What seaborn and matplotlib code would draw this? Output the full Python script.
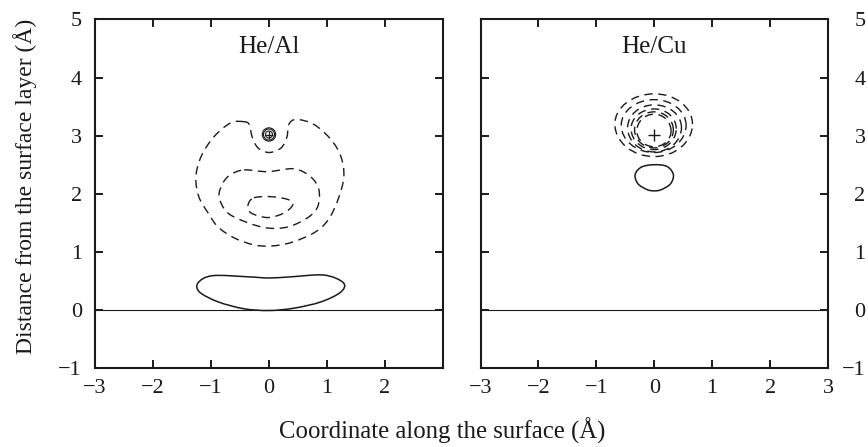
import numpy as np
import matplotlib
matplotlib.use("Agg")
import matplotlib.pyplot as plt
from matplotlib.path import Path
from matplotlib.patches import PathPatch
import seaborn as sns
import pandas as pd

# ---------------- data ----------------
panel_titles = ["He/Al", "He/Cu"]
x_ticks = [-3, -2, -1, 0, 1, 2, 3]
y_ticks = [-1, 0, 1, 2, 3, 4, 5]
surface_y = 0.0

# He atom position (+ marker)
al_he_x, al_he_y = 0.0, 3.02
cu_he_x, cu_he_y = 0.0, 3.02

# He/Al: outer dashed contour
al_outer_x = [-0.43, -0.66, -0.95, -1.17, -1.26, -1.21, -1.05, -0.88, -0.60, -0.26, 0.03,
              0.38, 0.78, 1.02, 1.19, 1.29, 1.24, 1.07, 0.78, 0.47, 0.34, 0.31, 0.21, 0.0,
              -0.19, -0.29, -0.34]
al_outer_y = [3.24, 3.22, 2.98, 2.64, 2.29, 1.95, 1.67, 1.43, 1.24, 1.12, 1.10,
              1.16, 1.33, 1.55, 1.90, 2.29, 2.64, 2.93, 3.19, 3.28, 3.19, 2.98, 2.79, 2.71,
              2.79, 2.98, 3.19]
# He/Al: middle dashed contour
al_mid_x = [-0.43, -0.02, 0.43, 0.72, 0.86, 0.84, 0.67, 0.33, -0.02, -0.36, -0.71, -0.86, -0.79, -0.66]
al_mid_y = [2.41, 2.38, 2.43, 2.29, 2.07, 1.78, 1.59, 1.43, 1.41, 1.50, 1.67, 1.95, 2.19, 2.33]
# He/Al: inner dashed contour
al_in_x = [-0.26, 0.03, 0.33, 0.41, 0.26, -0.02, -0.31, -0.36]
al_in_y = [1.93, 1.95, 1.90, 1.81, 1.67, 1.59, 1.67, 1.81]
# He/Al: solid contour near the surface
al_low_x = [-1.22, -0.97, -0.36, 0.0, 0.38, 0.95, 1.28, 1.24, 0.90, 0.43, 0.0, -0.43, -0.88, -1.20]
al_low_y = [0.47, 0.59, 0.57, 0.55, 0.57, 0.60, 0.47, 0.31, 0.14, 0.03, -0.01, 0.02, 0.14, 0.31]
# He/Al: small solid rings around He (left, right, top, bottom, widest y)
al_ring_left = [-0.115, -0.095, -0.06]
al_ring_right = [0.115, 0.095, 0.06]
al_ring_top = [3.135, 3.115, 3.08]
al_ring_bottom = [2.905, 2.925, 2.96]
al_ring_mid = [3.02, 3.02, 3.02]

# He/Cu: dashed rings (left, right, top, bottom, widest y)
cu_ring_left = [-0.68, -0.57, -0.46, -0.40, -0.34, -0.30]
cu_ring_right = [0.66, 0.55, 0.47, 0.38, 0.33, 0.29]
cu_ring_top = [3.72, 3.62, 3.53, 3.46, 3.41, 3.37]
cu_ring_bottom = [2.64, 2.71, 2.72, 2.76, 2.79, 2.81]
cu_ring_mid = [3.20, 3.18, 3.14, 3.12, 3.10, 3.08]
# He/Cu: small solid contour below
cu_low_x = [-0.33, -0.22, 0.0, 0.22, 0.33, 0.28, 0.12, 0.0, -0.12, -0.28]
cu_low_y = [2.33, 2.46, 2.50, 2.47, 2.33, 2.17, 2.07, 2.05, 2.07, 2.17]

INK = "#1a1a1a"
DASH = (0, (6.0, 4.0))

# ---------------- drawing helpers ----------------
def closed_smooth(ax, xs, ys, dashed, lw):
    p = np.column_stack([xs, ys])
    n = len(p)
    verts = [p[0]]
    codes = [Path.MOVETO]
    for i in range(n):
        p0, p1, p2, p3 = p[i - 1], p[i], p[(i + 1) % n], p[(i + 2) % n]
        c1 = p1 + (p2 - p0) / 6.0
        c2 = p2 - (p3 - p1) / 6.0
        verts += [c1, c2, p2]
        codes += [Path.CURVE4] * 3
    ls = DASH if dashed else "-"
    ax.add_patch(PathPatch(Path(verts, codes), facecolor="none", edgecolor=INK,
                           lw=lw, linestyle=ls, transform=ax.transData))

def ring(ax, xl, xr, yt, yb, ym, dashed, lw, xc=0.0):
    k = 0.5523
    verts = [(xr, ym),
             (xr, ym + k * (yt - ym)), (xc + k * (xr - xc), yt), (xc, yt),
             (xc - k * (xc - xl), yt), (xl, ym + k * (yt - ym)), (xl, ym),
             (xl, ym - k * (ym - yb)), (xc - k * (xc - xl), yb), (xc, yb),
             (xc + k * (xr - xc), yb), (xr, ym - k * (ym - yb)), (xr, ym)]
    codes = [Path.MOVETO] + [Path.CURVE4] * 12
    ls = DASH if dashed else "-"
    ax.add_patch(PathPatch(Path(verts, codes), facecolor="none", edgecolor=INK,
                           lw=lw, linestyle=ls, transform=ax.transData))

# ---------------- figure ----------------
sns.set_theme(style="ticks")
plt.rcParams["font.family"] = ["Liberation Serif", "DejaVu Serif"]

fig = plt.figure(figsize=(8.68, 4.47), dpi=100)
ax1 = fig.add_axes([0.1094, 0.1767, 0.4010, 0.7797])
ax2 = fig.add_axes([0.5536, 0.1767, 0.4003, 0.7797])

for ax in (ax1, ax2):
    line_df = pd.DataFrame({"x": [-3, 3], "y": [surface_y, surface_y]})
    sns.lineplot(data=line_df, x="x", y="y", ax=ax, color=INK, lw=0.8)
    ax.set_xlim(-3, 3)
    ax.set_ylim(-1, 5)
    ax.set_xticks(x_ticks)
    ax.set_yticks(y_ticks)
    for s in ax.spines.values():
        s.set_linewidth(1.5)
        s.set_color(INK)
        s.set_visible(True)
    ax.tick_params(direction="in", length=5.5, width=1.4, color=INK,
                   top=True, bottom=True, left=True, right=True,
                   labelsize=16, labelcolor=INK)
    ax.tick_params(axis="x", pad=8)

ax1.set_xticklabels([str(v).replace("-", "\u2212") for v in x_ticks[:-1]] + [""])
ax1.set_yticklabels([str(v).replace("-", "\u2212") for v in y_ticks])
ax1.tick_params(axis="y", pad=9.5)
ax2.set_xticklabels([str(v).replace("-", "\u2212") for v in x_ticks])
ax2.tick_params(axis="y", labelleft=False, labelright=True, pad=27)
ax2.set_yticklabels([str(v).replace("-", "\u2212") for v in y_ticks])
for t in ax2.get_yticklabels():
    t.set_horizontalalignment("right")

# He/Al contours
closed_smooth(ax1, al_outer_x, al_outer_y, True, 1.0)
closed_smooth(ax1, al_mid_x, al_mid_y, True, 1.0)
closed_smooth(ax1, al_in_x, al_in_y, True, 1.0)
closed_smooth(ax1, al_low_x, al_low_y, False, 1.1)
for i in range(len(al_ring_left)):
    ring(ax1, al_ring_left[i], al_ring_right[i], al_ring_top[i], al_ring_bottom[i],
         al_ring_mid[i], False, 0.8)
sns.scatterplot(x=[al_he_x], y=[al_he_y], ax=ax1, marker="+", s=28, color=INK,
                linewidth=0.9, zorder=5)

# He/Cu contours
for i in range(len(cu_ring_left)):
    ring(ax2, cu_ring_left[i], cu_ring_right[i], cu_ring_top[i], cu_ring_bottom[i],
         cu_ring_mid[i], True, 1.0)
closed_smooth(ax2, cu_low_x, cu_low_y, False, 1.1)
sns.scatterplot(x=[cu_he_x], y=[cu_he_y], ax=ax2, marker="+", s=80, color=INK,
                linewidth=1.0, zorder=5)

for ax in (ax1, ax2):
    ax.set_xlabel("")
    ax.set_ylabel("")

ax1.text(0, 4.52, panel_titles[0], ha="center", va="center", fontsize=18, color=INK)
ax2.text(0, 4.52, panel_titles[1], ha="center", va="center", fontsize=18, color=INK)

fig.text(0.509, 0.036, "Coordinate along the surface (\u00c5)", ha="center", va="center",
         fontsize=17.8, color=INK)
fig.text(0.029, 0.582, "Distance from the surface layer (\u00c5)", ha="center", va="center",
         rotation=90, fontsize=17, color=INK)

fig.savefig("out.png", dpi=100)
